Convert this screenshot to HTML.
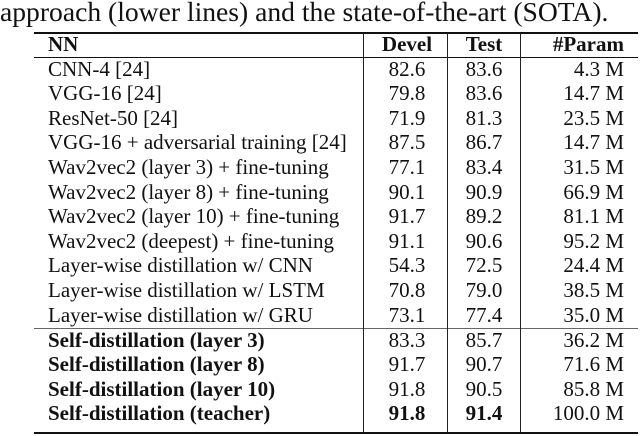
<!DOCTYPE html>
<html><head><meta charset="utf-8"><style>
body{margin:0;width:640px;height:436px;background:#fff;position:relative;overflow:hidden;font-family:"Liberation Serif",serif;color:#111}
.cap{position:absolute;left:0;top:-4px;font-size:27.6px;white-space:nowrap}
.r{position:absolute;left:0;width:640px;height:24px;font-size:21px;line-height:24px}
.r span{position:absolute;white-space:nowrap}
.a{left:48px}.b{left:368px;width:78px;text-align:center}.c{left:449px;width:70px;text-align:center}.d{right:16px;text-align:right}
.h{position:absolute;left:34px;width:604px;background:#111}
.v{position:absolute;width:1px;background:#222;top:34px;height:398px}
.bd{font-weight:bold}
</style></head><body>
<div class="cap">approach (lower lines) and the state-of-the-art (SOTA).</div>
<div class="h" style="top:32px;height:2px"></div>
<div class="h" style="top:57px;height:1px"></div>
<div class="h" style="top:328px;height:1px;background:#666"></div>
<div class="h" style="top:432px;height:2px"></div>
<div class="v" style="left:363px"></div>
<div class="v" style="left:447px"></div>
<div class="v" style="left:520px"></div>
<div class="r bd" style="top:32px"><span class="a">NN</span><span class="b">Devel</span><span class="c">Test</span><span class="d">#Param</span></div>
<div class="r" style="top:56.5px"><span class="a">CNN-4 [24]</span><span class="b">82.6</span><span class="c">83.6</span><span class="d">4.3 M</span></div>
<div class="r" style="top:81.1px"><span class="a">VGG-16 [24]</span><span class="b">79.8</span><span class="c">83.6</span><span class="d">14.7 M</span></div>
<div class="r" style="top:105.7px"><span class="a">ResNet-50 [24]</span><span class="b">71.9</span><span class="c">81.3</span><span class="d">23.5 M</span></div>
<div class="r" style="top:130.3px"><span class="a">VGG-16 + adversarial training [24]</span><span class="b">87.5</span><span class="c">86.7</span><span class="d">14.7 M</span></div>
<div class="r" style="top:154.9px"><span class="a">Wav2vec2 (layer 3) + fine-tuning</span><span class="b">77.1</span><span class="c">83.4</span><span class="d">31.5 M</span></div>
<div class="r" style="top:179.5px"><span class="a">Wav2vec2 (layer 8) + fine-tuning</span><span class="b">90.1</span><span class="c">90.9</span><span class="d">66.9 M</span></div>
<div class="r" style="top:204.1px"><span class="a">Wav2vec2 (layer 10) + fine-tuning</span><span class="b">91.7</span><span class="c">89.2</span><span class="d">81.1 M</span></div>
<div class="r" style="top:228.7px"><span class="a">Wav2vec2 (deepest) + fine-tuning</span><span class="b">91.1</span><span class="c">90.6</span><span class="d">95.2 M</span></div>
<div class="r" style="top:253.3px"><span class="a">Layer-wise distillation w/ CNN</span><span class="b">54.3</span><span class="c">72.5</span><span class="d">24.4 M</span></div>
<div class="r" style="top:277.9px"><span class="a">Layer-wise distillation w/ LSTM</span><span class="b">70.8</span><span class="c">79.0</span><span class="d">38.5 M</span></div>
<div class="r" style="top:302.5px"><span class="a">Layer-wise distillation w/ GRU</span><span class="b">73.1</span><span class="c">77.4</span><span class="d">35.0 M</span></div>
<div class="r" style="top:327.5px"><span class="a bd">Self-distillation (layer 3)</span><span class="b">83.3</span><span class="c">85.7</span><span class="d">36.2 M</span></div>
<div class="r" style="top:352.1px"><span class="a bd">Self-distillation (layer 8)</span><span class="b">91.7</span><span class="c">90.7</span><span class="d">71.6 M</span></div>
<div class="r" style="top:376.7px"><span class="a bd">Self-distillation (layer 10)</span><span class="b">91.8</span><span class="c">90.5</span><span class="d">85.8 M</span></div>
<div class="r" style="top:401.3px"><span class="a bd">Self-distillation (teacher)</span><span class="b bd">91.8</span><span class="c bd">91.4</span><span class="d">100.0 M</span></div>
</body></html>
